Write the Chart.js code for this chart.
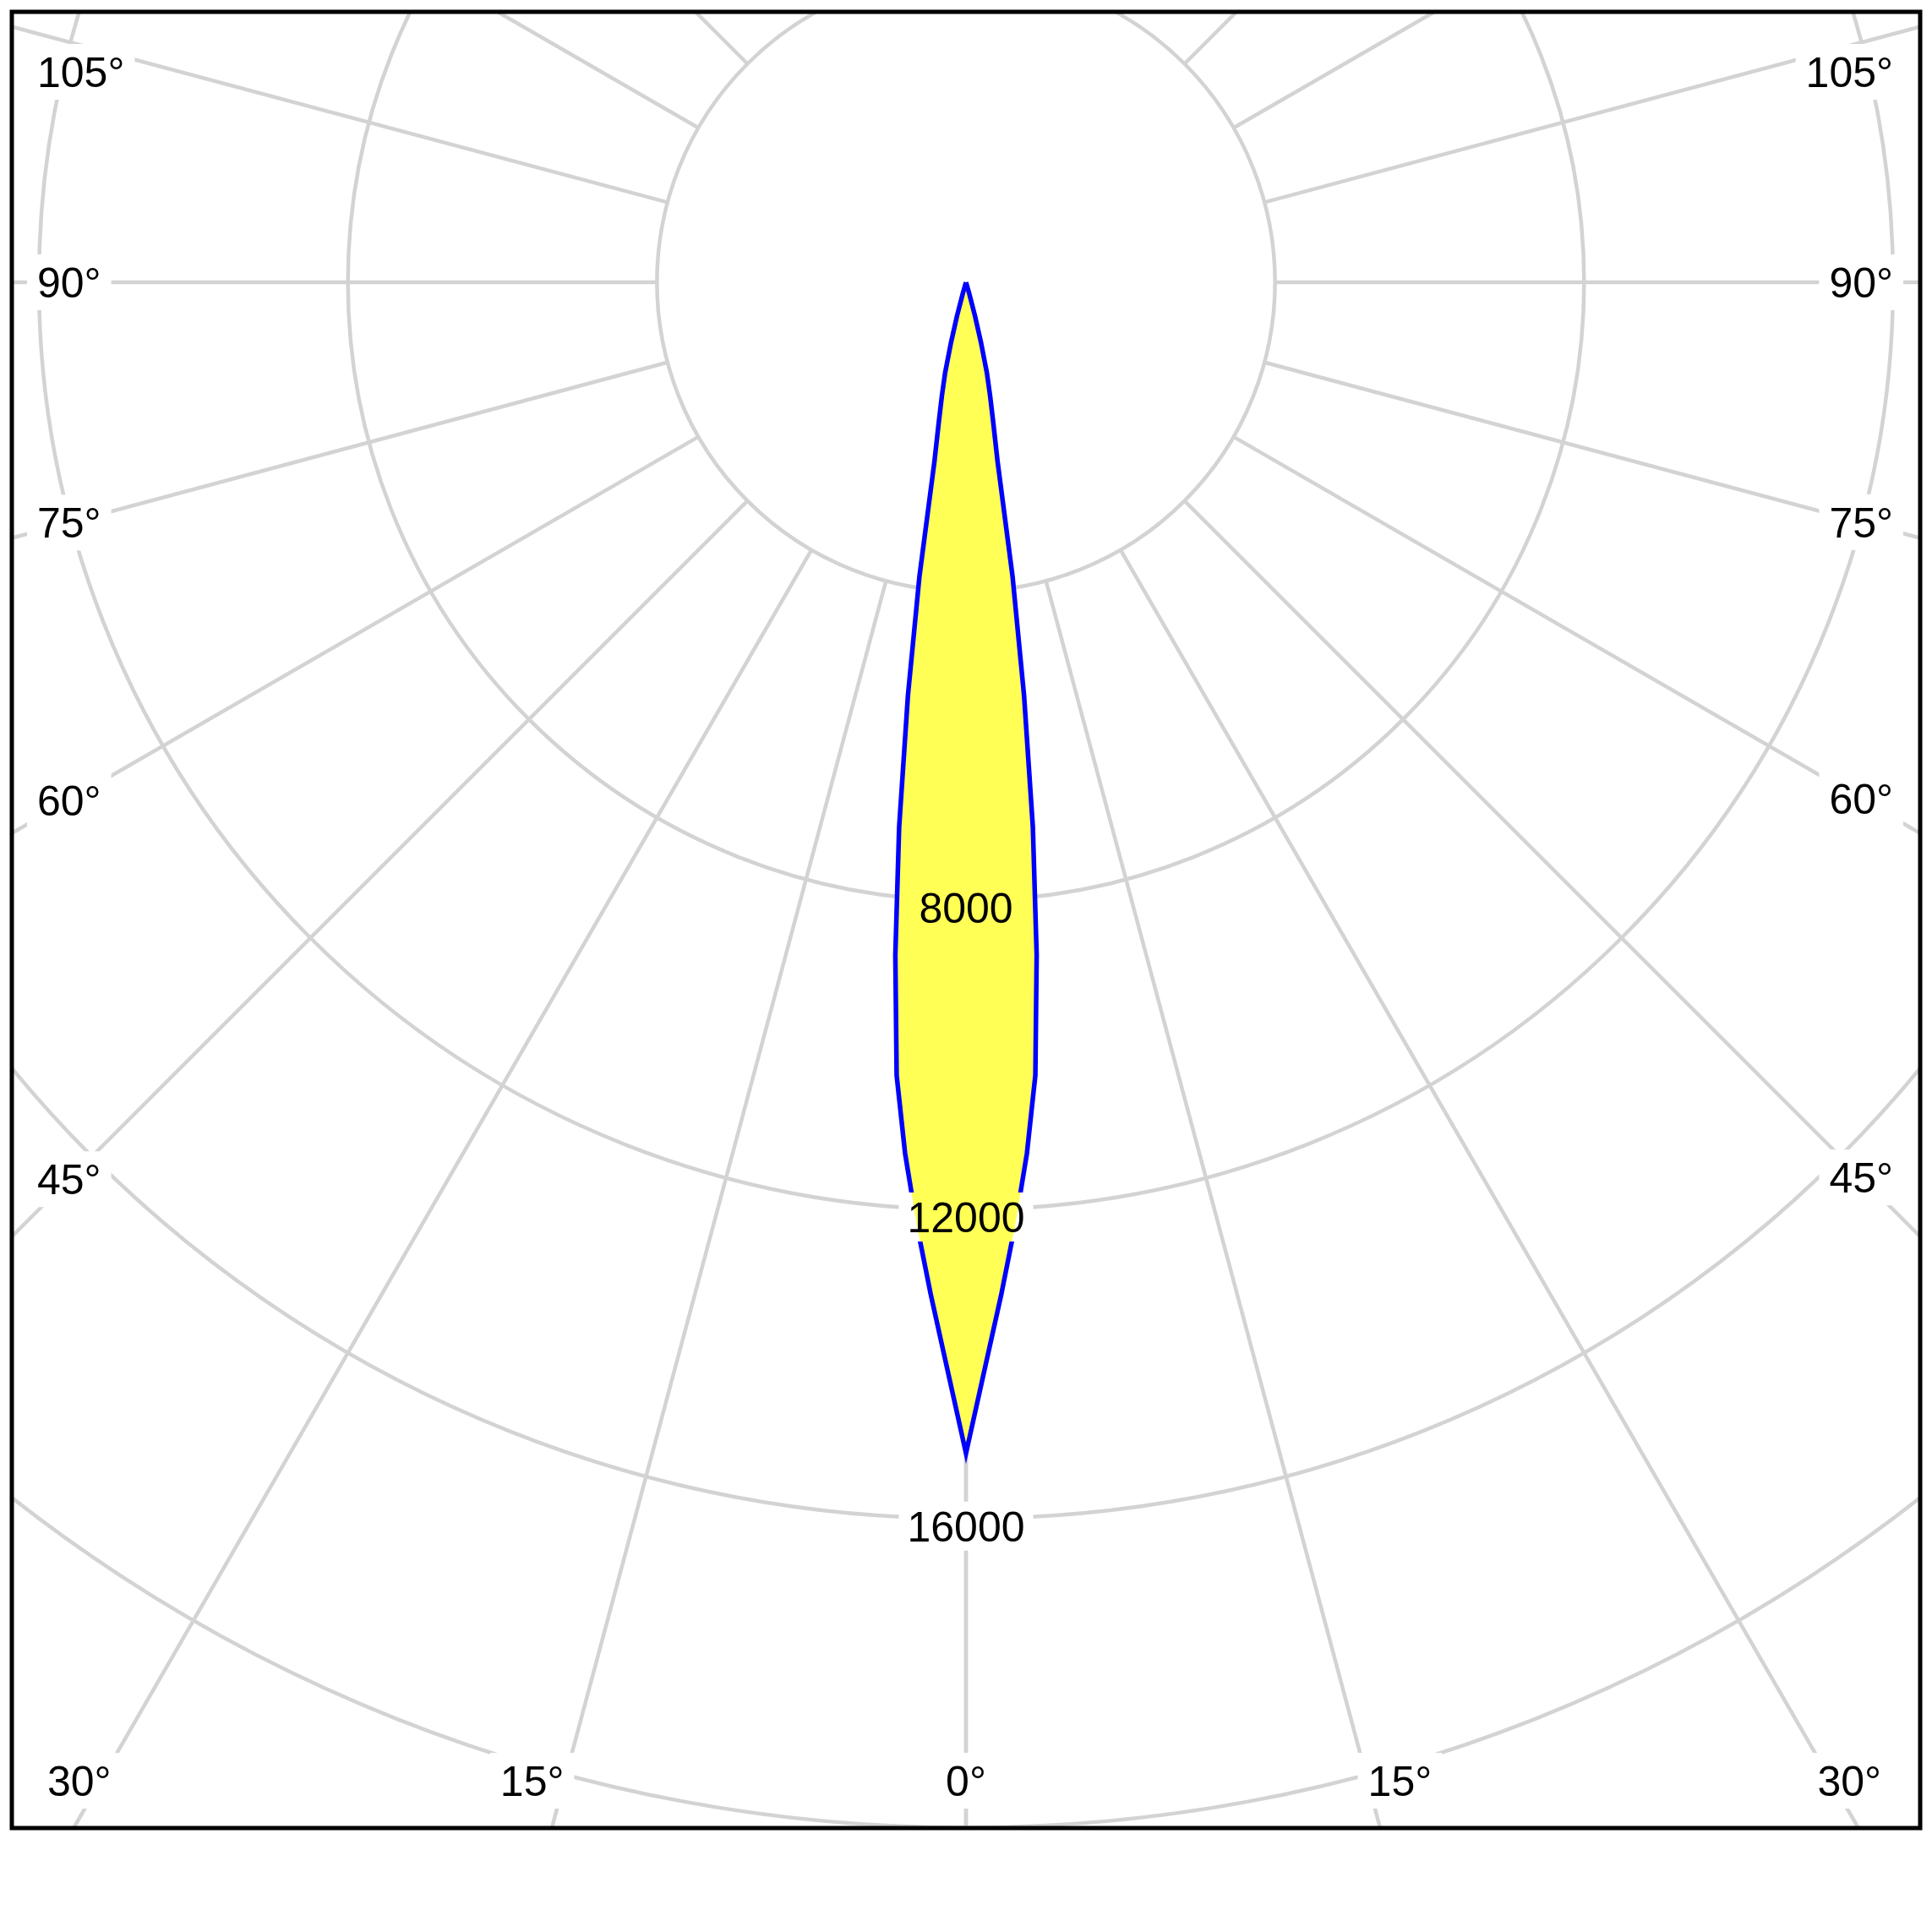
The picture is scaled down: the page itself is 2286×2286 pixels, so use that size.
<!DOCTYPE html>
<html>
<head>
<meta charset="utf-8">
<script src="https://cdn.jsdelivr.net/npm/chart.js@4"></script>
<style>
  html, body { margin: 0; padding: 0; background: #fff; }
  canvas { display: block; }
</style>
</head>
<body>
<canvas id="polar" width="2286" height="2286"></canvas>
<script>
// gamma angle (deg) and luminous intensity (cd)
const gammaDeg = [0, 1, 2, 3, 4, 5, 6, 7, 8, 9, 10, 11, 12, 13, 14, 15, 16, 17];
const cdRight  = [15150, 14050, 13100, 12200, 11300, 10300, 8750, 7100, 5400, 3850, 2350, 1850, 1500, 1200, 800, 450, 150, 0]; // C0
const cdLeft   = [15150, 14050, 13100, 12200, 11300, 10300, 8750, 7100, 5400, 3850, 2350, 1850, 1500, 1200, 800, 450, 150, 0]; // C180

// grid
const ringValues = [4000, 8000, 12000, 16000, 20000, 24000];
const ringLabelValues = [8000, 12000, 16000];
const ringLabels = ["8000", "12000", "16000"];
const spokeAngles = [0, 15, 30, 45, 60, 75, 90, 105, 120, 135, 150, 165, 180];
const angleLabelValues = [0, 15, 30, 45, 60, 75, 90, 105];
const angleLabels = ["0°", "15°", "30°", "45°", "60°", "75°", "90°", "105°"];

const FONT_SIZE = 50;
const FONT = FONT_SIZE + 'px "Liberation Sans", Arial, sans-serif';
const GRID = '#d3d3d3';

function toXY(g, cd) {
  const a = g * Math.PI / 180;
  return { x: cd * Math.sin(a), y: -cd * Math.cos(a) };
}

// closed outline: left half from the centre down to 0°, then the right half back up
const outline = [];
for (let i = gammaDeg.length - 1; i >= 0; i--) outline.push(toXY(-gammaDeg[i], cdLeft[i]));
for (let i = 1; i < gammaDeg.length; i++) outline.push(toXY(gammaDeg[i], cdRight[i]));

let labelBoxes = [];

function computeLabels(chart) {
  const { ctx, chartArea: a, scales: { x, y } } = chart;
  const cx = x.getPixelForValue(0), cy = y.getPixelForValue(0);
  const boxes = [];
  ctx.save();
  ctx.font = FONT;
  angleLabelValues.forEach((g, i) => {
    const sides = g === 0 ? [1] : [-1, 1];
    sides.forEach(s => {
      const text = angleLabels[i];
      const w = ctx.measureText(text).width;
      const t = g * Math.PI / 180;
      const dx = s * Math.sin(t), dy = Math.cos(t);
      let xMin = a.left + 30 + w / 2, xMax = a.right - 32 - w / 2;
      const yMin = a.top + 71, yMax = a.bottom - 56;
      let tt = Infinity;
      if (dx < -1e-9) tt = Math.min(tt, (xMin - cx) / dx);
      if (dx > 1e-9) tt = Math.min(tt, (xMax - cx) / dx);
      if (dy > 1e-9) tt = Math.min(tt, (a.bottom + 87 - cy) / dy);
      let px = cx + dx * tt, py = cy + dy * tt;
      if (py >= yMax) {
        // bottom row sits a little further in
        xMin = a.left + 42 + w / 2;
        xMax = a.right - 46 - w / 2;
      }
      px = Math.min(Math.max(px, xMin), xMax);
      py = Math.min(Math.max(py, yMin), yMax);
      boxes.push({ text, x: px, y: py, bx: px - w / 2 - 12, by: py - 33, bw: w + 24, bh: 66 });
    });
  });
  ringLabelValues.forEach((v, i) => {
    const text = ringLabels[i];
    const w = ctx.measureText(text).width;
    const r = x.getPixelForValue(v) - cx;
    const px = cx, py = cy + r + 9;
    boxes.push({ text, x: px, y: py, bx: px - w / 2 - 10, by: py - 29, bw: w + 20, bh: 58 });
  });
  ctx.restore();
  return boxes;
}

const polarGrid = {
  id: 'polarGrid',
  beforeDatasetsDraw(chart) {
    const { ctx, chartArea: a, scales: { x, y } } = chart;
    const cx = x.getPixelForValue(0), cy = y.getPixelForValue(0);
    const rad = v => x.getPixelForValue(v) - cx;
    ctx.save();
    ctx.beginPath();
    ctx.rect(a.left, a.top, a.width, a.height);
    ctx.clip();
    ctx.strokeStyle = GRID;
    ctx.lineWidth = 4.5;
    ringValues.forEach(v => {
      ctx.beginPath();
      ctx.arc(cx, cy, rad(v), 0, 2 * Math.PI);
      ctx.stroke();
    });
    const r0 = rad(ringValues[0]), r1 = rad(40000);
    spokeAngles.forEach(g => {
      [1, -1].forEach(s => {
        const t = g * Math.PI / 180;
        const dx = s * Math.sin(t), dy = Math.cos(t);
        ctx.beginPath();
        ctx.moveTo(cx + dx * r0, cy + dy * r0);
        ctx.lineTo(cx + dx * r1, cy + dy * r1);
        ctx.stroke();
      });
    });
    labelBoxes = computeLabels(chart);
    ctx.fillStyle = '#fff';
    labelBoxes.forEach(b => ctx.fillRect(b.bx, b.by, b.bw, b.bh));
    ctx.restore();
  },
  // keep the outline out of the label boxes
  beforeDatasetDraw(chart) {
    const { ctx, chartArea: a } = chart;
    ctx.save();
    ctx.beginPath();
    ctx.rect(a.left, a.top, a.width, a.height);
    labelBoxes.forEach(b => ctx.rect(b.bx, b.by, b.bw, b.bh));
    ctx.clip('evenodd');
  },
  afterDatasetDraw(chart) {
    chart.ctx.restore();
  },
  afterDatasetsDraw(chart) {
    const { ctx } = chart;
    ctx.save();
    ctx.font = FONT;
    ctx.fillStyle = '#000';
    ctx.textAlign = 'center';
    ctx.textBaseline = 'alphabetic';
    labelBoxes.forEach(b => ctx.fillText(b.text, b.x, b.y + FONT_SIZE * 0.358));
    ctx.restore();
  },
  afterDraw(chart) {
    const { ctx, chartArea: a } = chart;
    ctx.save();
    ctx.strokeStyle = '#000';
    ctx.lineWidth = 5;
    ctx.strokeRect(a.left, a.top, a.width, a.height);
    ctx.restore();
  }
};

new Chart(document.getElementById('polar').getContext('2d'), {
  type: 'scatter',
  data: {
    datasets: [{
      data: outline,
      showLine: true,
      fill: 'shape',
      backgroundColor: '#ffff55',
      borderColor: '#0000ff',
      borderWidth: 5.5,
      borderJoinStyle: 'miter',
      pointRadius: 0,
      tension: 0
    }]
  },
  options: {
    responsive: false,
    animation: false,
    layout: { padding: { left: 14, top: 14, right: 14, bottom: 123 } },
    scales: {
      x: { type: 'linear', min: -12350, max: 12350, display: false },
      y: { type: 'linear', min: -20000, max: 3500, display: false }
    },
    plugins: {
      legend: { display: false },
      tooltip: { enabled: false }
    }
  },
  plugins: [polarGrid]
});
</script>
</body>
</html>
